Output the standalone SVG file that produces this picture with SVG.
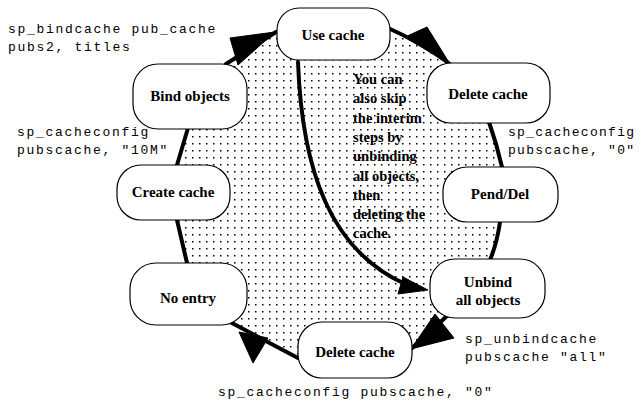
<svg xmlns="http://www.w3.org/2000/svg" width="641" height="406" viewBox="0 0 641 406">
<style>
.node rect{fill:#fff;stroke:#000;stroke-width:1.2}
.node text{font-family:"Liberation Serif",serif;font-weight:bold;font-size:15px;text-anchor:middle;fill:#000}
.conn path{fill:none;stroke:#000;stroke-width:4;stroke-linecap:round}
.conn polygon{fill:#000;stroke:#000;stroke-width:1}
.code{font-family:"Liberation Mono",monospace;font-size:13px;letter-spacing:1.7px;fill:#000}
.tight{letter-spacing:1.3px}
.note{font-family:"Liberation Serif",serif;font-weight:bold;font-size:14.5px;fill:#000}
</style>
<defs>
<pattern id="dots" x="0" y="0" width="7" height="7" patternUnits="userSpaceOnUse">
<rect x="3" y="3" width="1.5" height="1.5" fill="#000"/>
</pattern>
</defs>
<rect width="641" height="406" fill="#fff"/>
<polygon id="loopfill" fill="url(#dots)" points="277,33 388,28 450,64 488,120 502,166 500,222 490,261 447,316 412,349 298,358 230,322 187,263 177,220 177,165 188,128 228,63"/>
<g id="connectors" class="conn">
<path d="M226,64 L276,32"/>
<polygon points="230,38 275,32 238,65"/>
<path d="M388,28 Q420,42 450,64"/>
<polygon points="405,37 427,27 450,64"/>
<path d="M489,122 Q497,145 502,167"/>
<path d="M500,222 Q497,243 490,260"/>
<path d="M447,316 L411,349"/>
<polygon points="411,349 435,314 454,338"/>
<path d="M298,358 L230,322"/>
<polygon points="239,332 268,338 253,363"/>
<path d="M187,263 L177,220"/>
<path d="M177,165 L188,128"/>
<path d="M298,62 C302,170 330,250 405,284"/>
<polygon points="403,277 428,290 398,294"/>
</g>
<g id="use-cache" class="node"><rect x="277" y="8" width="113" height="52" rx="22"/><text x="333" y="40">Use cache</text></g>
<g id="delete-cache-top" class="node"><rect x="427" y="63" width="123" height="60" rx="24"/><text x="488" y="99">Delete cache</text></g>
<g id="bind-objects" class="node"><rect x="133" y="64" width="114" height="65" rx="25"/><text x="190" y="101">Bind objects</text></g>
<g id="create-cache" class="node"><rect x="117" y="165" width="113" height="55" rx="24"/><text x="173" y="197">Create cache</text></g>
<g id="pend-del" class="node"><rect x="443" y="167" width="115" height="55" rx="24"/><text x="500" y="199">Pend/Del</text></g>
<g id="no-entry" class="node"><rect x="130" y="263" width="117" height="62" rx="26"/><text x="188" y="303">No entry</text></g>
<g id="unbind" class="node"><rect x="430" y="259" width="115" height="59" rx="25"/><text x="488" y="287">Unbind</text><text x="488" y="305">all objects</text></g>
<g id="delete-cache-bottom" class="node"><rect x="298" y="322" width="114" height="56" rx="24"/><text x="355" y="357">Delete cache</text></g>
<g id="note">
<text class="note" x="353" y="84">You can</text>
<text class="note" x="353" y="103">also skip</text>
<text class="note" x="353" y="123">the interim</text>
<text class="note" x="353" y="142">steps by</text>
<text class="note" x="353" y="161">unbinding</text>
<text class="note" x="353" y="181">all objects,</text>
<text class="note" x="353" y="200">then</text>
<text class="note" x="353" y="219">deleting the</text>
<text class="note" x="353" y="238">cache.</text>
</g>
<g id="labels">
<text class="code" x="8" y="33">sp_bindcache pub_cache</text>
<text class="code" x="8" y="51">pubs2, titles</text>
<text class="code" x="17" y="136">sp_cacheconfig</text>
<text class="code" x="17" y="154">pubscache, "10M"</text>
<text class="code tight" x="508" y="136">sp_cacheconfig</text>
<text class="code tight" x="508" y="154">pubscache, "0"</text>
<text class="code" x="465" y="343">sp_unbindcache</text>
<text class="code" x="465" y="361">pubscache "all"</text>
<text class="code" x="218" y="396">sp_cacheconfig pubscache, "0"</text>
</g>
</svg>
